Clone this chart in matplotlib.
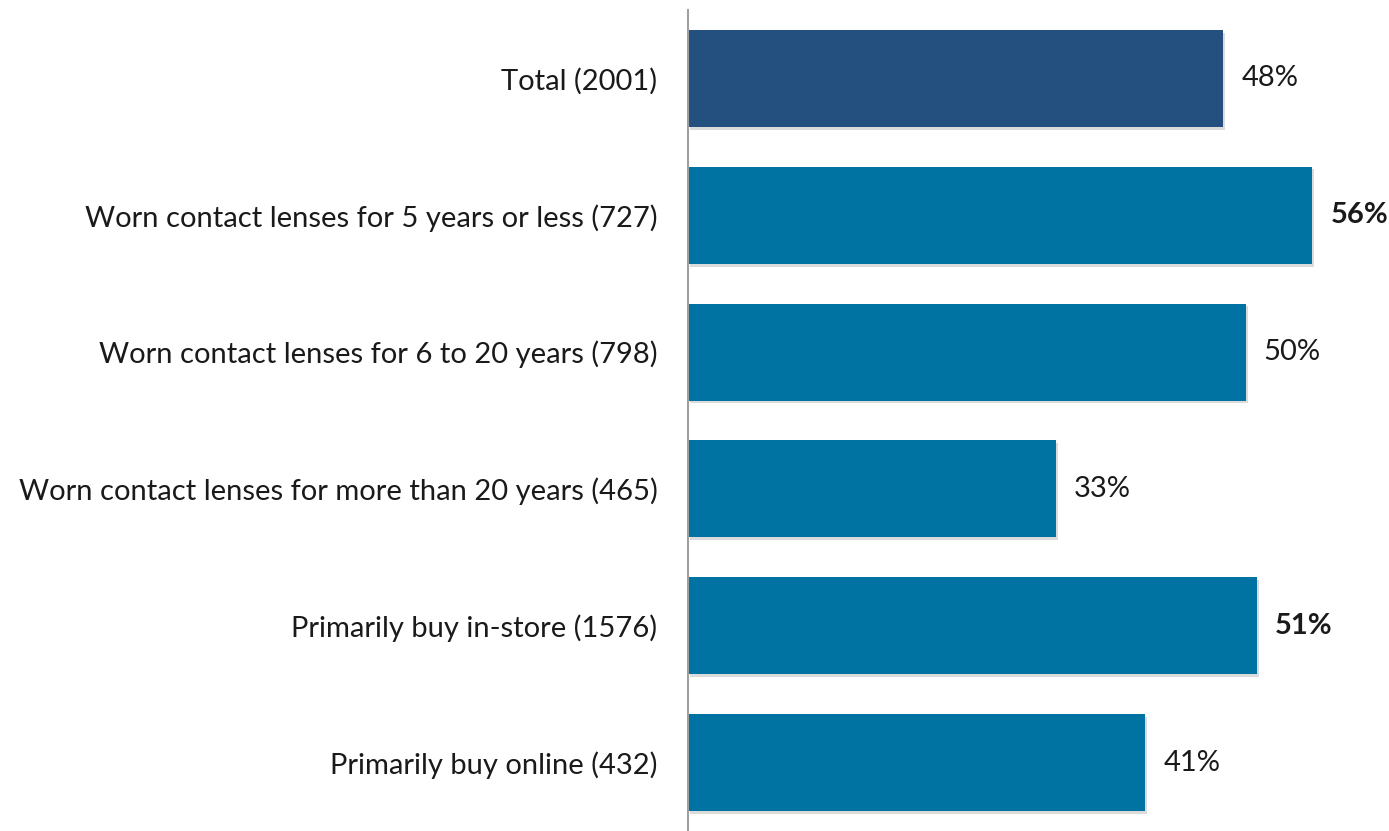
import matplotlib.pyplot as plt
import matplotlib.patheffects as pe

# survey groups, top to bottom
categories = ['Total (2001)',
              'Worn contact lenses for 5 years or less (727)',
              'Worn contact lenses for 6 to 20 years (798)',
              'Worn contact lenses for more than 20 years (465)',
              'Primarily buy in-store (1576)',
              'Primarily buy online (432)']
values = [48, 56, 50, 33, 51, 41]
bold_labels = [False, True, False, False, True, False]
colors = ['#24507F', '#0073A3', '#0073A3', '#0073A3', '#0073A3', '#0073A3']

plt.rcParams['font.family'] = ['Lato', 'DejaVu Sans']

fig = plt.figure(figsize=(13.89, 8.31), dpi=100)
ax = fig.add_axes([688/1389, 0.0, 669/1389, 1 - 10/831])

ypos = list(range(len(categories)))
bars = ax.barh(ypos, values, height=0.71, color=colors)
for b in bars:
    b.set_path_effects([pe.SimplePatchShadow(offset=(1.5, -2), shadow_rgbFace='#888888', alpha=0.3),
                        pe.Normal()])

for y, v, bold in zip(ypos, values, bold_labels):
    ax.annotate('%d%%' % v, xy=(v, y), xytext=(13, 0), textcoords='offset points',
                va='center', ha='left', fontsize=21,
                fontweight='bold' if bold else 'normal', color='#1a1a1a')

ax.set_yticks(ypos)
ax.set_yticklabels(categories, fontsize=21, color='#1a1a1a')
ax.tick_params(axis='y', length=0, pad=22)
ax.set_xticks([])
ax.set_xlim(0, 60)
ax.set_ylim(len(categories) - 0.5, -0.5)

for s in ['top', 'right', 'bottom']:
    ax.spines[s].set_visible(False)
ax.spines['left'].set_color('#a0a0a0')
ax.spines['left'].set_linewidth(1.5)

plt.savefig('out.png', dpi=100)
